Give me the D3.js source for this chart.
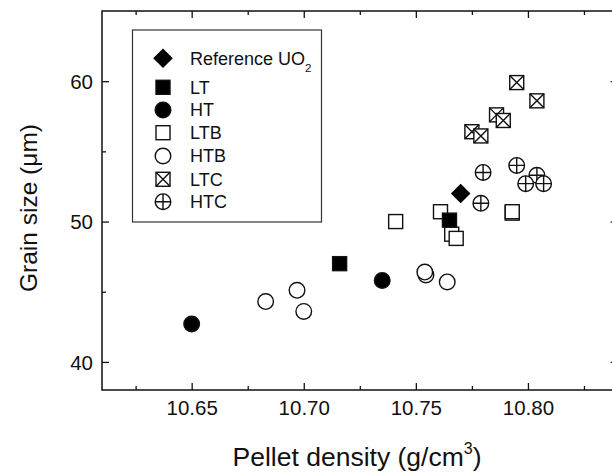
<!DOCTYPE html>
<html>
<head>
<meta charset="utf-8">
<script src="https://cdn.jsdelivr.net/npm/d3@7"></script>
<style>
  html, body { margin: 0; padding: 0; background: #fff; }
  svg { display: block; font-family: "Liberation Sans", Arial, sans-serif; }
  .axis path, .axis line { stroke: #111; stroke-width: 1.3; }
  .axis text { fill: #111; }
</style>
</head>
<body>
<svg id="chart" width="612" height="473"></svg>
<script>
// ---- data (density g/cm3, grain size um) ----
const refUO2 = [[10.770, 52.0]];
const LT  = [[10.716, 47.0], [10.765, 50.1]];
const HT  = [[10.650, 42.7], [10.735, 45.8]];
const LTB = [[10.741, 50.0], [10.761, 50.7], [10.766, 49.1], [10.768, 48.8], [10.793, 50.6], [10.793, 50.7]];
const HTB = [[10.683, 44.3], [10.697, 45.1], [10.700, 43.6], [10.7545, 46.2], [10.754, 46.4], [10.764, 45.7]];
const LTC = [[10.795, 59.9], [10.804, 58.6], [10.786, 57.6], [10.789, 57.2], [10.775, 56.4], [10.779, 56.1]];
const HTC = [[10.780, 53.5], [10.795, 54.0], [10.804, 53.3], [10.799, 52.7], [10.807, 52.7], [10.779, 51.3]];

const xMajor = [10.65, 10.70, 10.75, 10.80];
const xMinor = [10.625, 10.675, 10.725, 10.775, 10.825];
const yMajor = [40, 50, 60];
const yMinor = [45, 55];

const series = [
  { name: "Reference UO", sub: "2", type: "diamond", data: refUO2 },
  { name: "LT",  type: "square",   data: LT },
  { name: "HT",  type: "circle",   data: HT },
  { name: "LTB", type: "osquare",  data: LTB },
  { name: "HTB", type: "ocircle",  data: HTB },
  { name: "LTC", type: "xsquare",  data: LTC },
  { name: "HTC", type: "pcircle",  data: HTC }
];

const svg = d3.select("#chart");
const L = 102, R = 617.6, T = 11, B = 390;
const x = d3.scaleLinear().domain([10.61, 10.84]).range([L, R]);
const y = d3.scaleLinear().domain([38, 65]).range([B, T]);

// frame + ticks (inward)
function ticks(axisFn, scale, vals, len, tr, labels) {
  const a = axisFn(scale).tickValues(vals).tickSize(-len).tickPadding(9);
  if (!labels) a.tickFormat("");
  else a.tickFormat(d3.format(labels));
  const g = svg.append("g").attr("class", "axis").attr("transform", tr).call(a);
  g.select(".domain").remove();
  return g;
}
ticks(d3.axisBottom, x, xMinor, 4, `translate(0,${B})`);
ticks(d3.axisTop, x, xMinor, 4, `translate(0,${T})`);
ticks(d3.axisTop, x, xMajor, 7, `translate(0,${T})`);
ticks(d3.axisLeft, y, yMinor, 4, `translate(${L},0)`);
ticks(d3.axisRight, y, yMinor, 4, `translate(${R},0)`);
ticks(d3.axisRight, y, yMajor, 7, `translate(${R},0)`);
const xa = ticks(d3.axisBottom, x, xMajor, 7, `translate(0,${B})`, ".2f");
xa.selectAll("text").attr("font-size", 20.5).attr("dy", null).attr("y", 25);
const ya = ticks(d3.axisLeft, y, yMajor, 7, `translate(${L},0)`, "d");
ya.selectAll("text").attr("font-size", 20.5).attr("x", -9).attr("dy", "0.35em");

svg.append("rect")
  .attr("x", L).attr("y", T).attr("width", R - L).attr("height", B - T)
  .attr("fill", "none").attr("stroke", "#111").attr("stroke-width", 1.5);

// markers
function marker(g, type, cx, cy) {
  const s = 7, r = 7.8, d = 9.8;
  const st = { stroke: "#111", "stroke-width": 1.4 };
  const apply = (el, fill) => { el.attr("fill", fill); for (const k in st) el.attr(k, st[k]); return el; };
  if (type === "diamond") {
    g.append("path").attr("d", `M${cx},${cy - d}L${cx + d},${cy}L${cx},${cy + d}L${cx - d},${cy}Z`).attr("fill", "#000");
  } else if (type === "square" || type === "osquare" || type === "xsquare") {
    apply(g.append("rect").attr("x", cx - s).attr("y", cy - s).attr("width", 2 * s).attr("height", 2 * s),
      type === "square" ? "#000" : "#fff");
    if (type === "xsquare")
      apply(g.append("path").attr("d", `M${cx - s},${cy - s}L${cx + s},${cy + s}M${cx + s},${cy - s}L${cx - s},${cy + s}`), "none");
  } else {
    apply(g.append("circle").attr("cx", cx).attr("cy", cy).attr("r", r), type === "circle" ? "#000" : "#fff");
    if (type === "pcircle")
      apply(g.append("path").attr("d", `M${cx - r},${cy}L${cx + r},${cy}M${cx},${cy - r}L${cx},${cy + r}`), "none");
  }
}

const pts = svg.append("g");
const order = ["LTB", "LT", "HTB", "HT", "Reference UO", "LTC", "HTC"];
order.forEach(n => {
  const s = series.find(d => d.name === n);
  s.data.forEach(([dx, dy]) => marker(pts, s.type, x(dx), y(dy)));
});

// legend
const lg = svg.append("g");
lg.append("rect").attr("x", 132.5).attr("y", 30).attr("width", 189).attr("height", 192)
  .attr("fill", "#fff").attr("stroke", "#333").attr("stroke-width", 1.2);
const rowY = [58.3, 87.3, 110, 132.7, 156, 179.3, 201.7];
series.forEach((s, i) => {
  marker(lg, s.type, 163, rowY[i]);
  const t = lg.append("text").attr("x", 190).attr("y", rowY[i]).attr("dy", "0.36em")
    .attr("font-size", 18).attr("fill", "#111").text(s.name);
  if (s.sub) t.append("tspan").attr("font-size", 11.5).attr("dy", 7).text(s.sub);
});

// axis titles
svg.append("text").attr("x", 357).attr("y", 466).attr("text-anchor", "middle")
  .attr("font-size", 26.5).attr("fill", "#111")
  .text("Pellet density (g/cm")
  .call(t => { t.append("tspan").attr("font-size", 16).attr("dy", -12).text("3");
               t.append("tspan").attr("dy", 12).text(")"); });
svg.append("text").attr("transform", "translate(37,208) rotate(-90)").attr("text-anchor", "middle")
  .attr("font-size", 24.5).attr("fill", "#111").text("Grain size (\u03bcm)");
</script>
</body>
</html>
